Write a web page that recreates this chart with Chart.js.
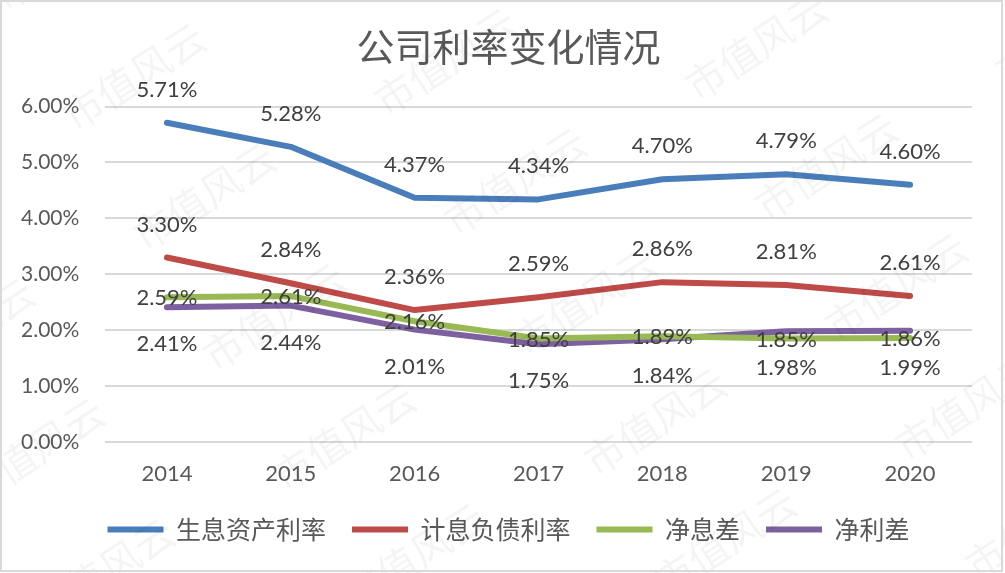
<!DOCTYPE html>
<html>
<head>
<meta charset="utf-8">
<script src="https://cdn.jsdelivr.net/npm/chart.js@4.4.0/dist/chart.umd.min.js"></script>
<style>
  html, body { margin: 0; padding: 0; background: #fff; }
</style>
</head>
<body>
<canvas id="chart" width="1005" height="573"></canvas>
<script>
// data
const years = ['2014', '2015', '2016', '2017', '2018', '2019', '2020'];
const assetYield = [5.71, 5.28, 4.37, 4.34, 4.70, 4.79, 4.60];      // 生息资产利率
const liabilityCost = [3.30, 2.84, 2.36, 2.59, 2.86, 2.81, 2.61];   // 计息负债利率
const netMargin = [2.59, 2.61, 2.16, 1.85, 1.89, 1.85, 1.86];       // 净息差
const netSpread = [2.41, 2.44, 2.01, 1.75, 1.84, 1.98, 1.99];       // 净利差
const seriesNames = ['生息资产利率', '计息负债利率', '净息差', '净利差'];

const seriesColors = ['#4A7EBB', '#BE4B48', '#98B954', '#7D60A0'];
const labelOffsets = [-33, -33, 1, 37]; // label y shift per series (px)

const CJK = '"Noto Sans CJK SC", "Noto Sans", sans-serif';
const NUM = 'Lato, "Open Sans", sans-serif';

const valueLabels = {
  id: 'valueLabels',
  afterDatasetsDraw(chart) {
    const ctx = chart.ctx;
    ctx.save();
    ctx.font = '22px ' + NUM;
    ctx.fillStyle = '#404040';
    ctx.textAlign = 'center';
    ctx.textBaseline = 'middle';
    chart.data.datasets.forEach((ds, i) => {
      chart.getDatasetMeta(i).data.forEach((pt, j) => {
        ctx.fillText(ds.data[j].toFixed(2) + '%', pt.x, pt.y + labelOffsets[i]);
      });
    });
    ctx.restore();
  }
};

// faint "市值风云" watermark + outer frame
const watermark = {
  id: 'watermark',
  afterDraw(chart) {
    const ctx = chart.ctx;
    ctx.save();
    ctx.font = '40px ' + CJK;
    ctx.fillStyle = 'rgba(0,0,0,0.045)';
    for (let i = -2; i <= 4; i++) {
      for (let j = -2; j <= 5; j++) {
        const x = 67 + i * 311 + j * 70;
        const y = 120 - i * 15 + j * 120;
        if (x < -200 || x > 1010 || y < -20 || y > 700) continue;
        ctx.save();
        ctx.translate(x, y);
        ctx.rotate(-33 * Math.PI / 180);
        ctx.fillText('市值风云', 0, 0);
        ctx.restore();
      }
    }
    ctx.strokeStyle = '#d9d9d9';
    ctx.lineWidth = 2;
    ctx.strokeRect(1, 1, 1001, 570);
    ctx.restore();
  }
};

const seriesData = [assetYield, liabilityCost, netMargin, netSpread];

new Chart(document.getElementById('chart'), {
  type: 'line',
  data: {
    labels: years,
    datasets: seriesData.map((d, i) => ({
      label: seriesNames[i],
      data: d,
      borderColor: seriesColors[i],
      backgroundColor: seriesColors[i],
      borderWidth: 6,
      borderCapStyle: 'round',
      borderJoinStyle: 'round',
      pointRadius: 0,
      pointStyle: 'line',
      tension: 0
    }))
  },
  options: {
    responsive: false,
    animation: false,
    layout: { padding: { left: 45, right: 33, top: 0, bottom: 21 } },
    plugins: {
      title: {
        display: true,
        text: '公司利率变化情况',
        color: '#595959',
        font: { family: CJK, size: 38, weight: 'normal' },
        padding: { top: 24, bottom: 37 }
      },
      legend: {
        position: 'bottom',
        labels: {
          usePointStyle: true,
          pointStyleWidth: 56,
          boxHeight: 6,
          padding: 26,
          color: '#595959',
          font: { family: CJK, size: 25 }
        }
      },
      tooltip: { enabled: false }
    },
    scales: {
      x: {
        offset: true,
        grid: { display: false, drawTicks: false },
        border: { display: false },
        ticks: { color: '#595959', font: { family: NUM, size: 22 }, padding: 19 },
        afterFit: (axis) => { axis.height = 49; }
      },
      y: {
        min: 0,
        max: 6,
        grid: { color: '#d9d9d9', lineWidth: 2, drawTicks: false },
        border: { display: false },
        ticks: {
          stepSize: 1,
          mirror: true,
          crossAlign: 'near',
          padding: -84,
          color: '#595959',
          font: { family: NUM, size: 21 },
          callback: (v) => v.toFixed(2) + '%'
        },
        afterFit: (axis) => { axis.width = 60; }
      }
    }
  },
  plugins: [valueLabels, watermark]
});
</script>
</body>
</html>
